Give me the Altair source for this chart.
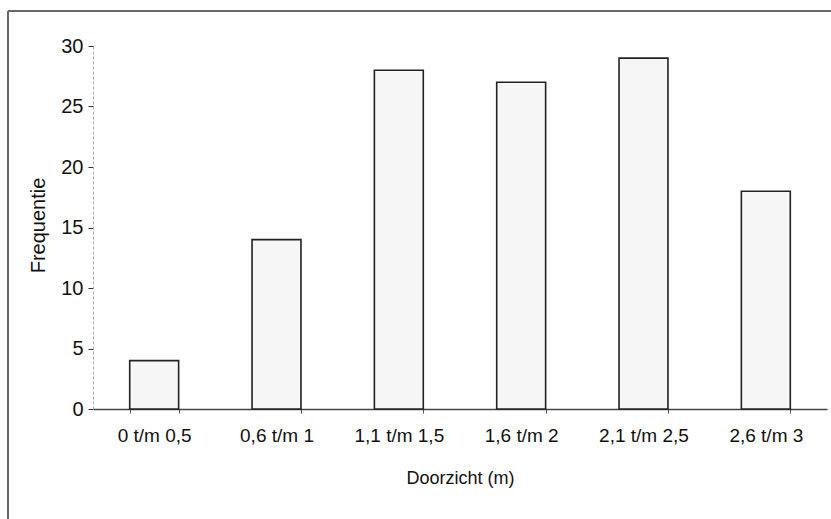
import altair as alt
import pandas as pd

# Frequency of water transparency classes
klassen = ["0 t/m 0,5", "0,6 t/m 1", "1,1 t/m 1,5", "1,6 t/m 2", "2,1 t/m 2,5", "2,6 t/m 3"]
frequentie = [4, 14, 28, 27, 29, 18]

df = pd.DataFrame({"klasse": klassen, "frequentie": frequentie})

FONT = "Liberation Sans"

bars = alt.Chart(df).mark_bar(
    fill="#f6f6f6", stroke="#222222", strokeWidth=1.6, clip=False
).encode(
    x=alt.X(
        "klasse:N",
        sort=klassen,
        scale=alt.Scale(paddingInner=0.6, paddingOuter=0.3),
        axis=alt.Axis(
            title="Doorzicht (m)",
            labelAngle=0,
            tickBand="extent",
            tickSize=4,
            tickColor="#555555",
            domainColor="#444444",
            domainWidth=1.5,
            labelPadding=13,
            labelFontSize=19,
            titleFontSize=18,
            titleY=69,
            titleBaseline="middle",
        ),
    ),
    y=alt.Y(
        "frequentie:Q",
        scale=alt.Scale(domain=[0, 30], nice=False),
        axis=alt.Axis(
            title="Frequentie",
            values=[0, 5, 10, 15, 20, 25, 30],
            grid=False,
            tickSize=5,
            tickColor="#333333",
            domainColor="#aaaaaa",
            domainDash=[3, 2],
            labelPadding=5,
            labelFontSize=20,
            titleFontSize=20,
            titleX=-55,
            titleY=225 - 46,
            titleBaseline="middle",
            titleAngle=270,
        ),
    ),
)

# Outer frame: left and top edges of the chart border
frame_left = alt.Chart(df).mark_rule(color="#666666", strokeWidth=1, clip=False).encode(
    x=alt.value(-85), y=alt.value(-35), y2=alt.value(480)
)
frame_top = alt.Chart(df).mark_rule(color="#666666", strokeWidth=1, clip=False).encode(
    x=alt.value(-85), x2=alt.value(740), y=alt.value(-35)
)

chart = alt.layer(bars, frame_left, frame_top).properties(
    width=734,
    height=363,
    autosize="none",
    padding={"left": 93, "top": 46, "right": 4, "bottom": 110},
    background="#ffffff",
).configure_view(stroke=None).configure_axis(
    labelFont=FONT,
    titleFont=FONT,
    titleFontWeight="normal",
    labelColor="#111111",
    titleColor="#111111",
)

chart.save("out.html", embed_options={"renderer": "svg", "actions": False})
